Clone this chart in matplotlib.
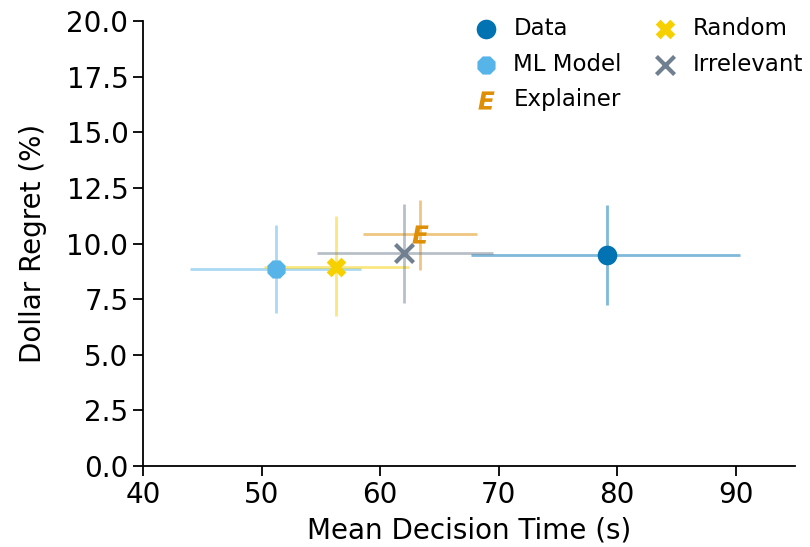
import matplotlib
matplotlib.use("Agg")
import matplotlib.pyplot as plt

# values
labels = ["Data", "ML Model", "Explainer", "Random", "Irrelevant"]
mean_time = [79.1, 51.2, 63.4, 56.3, 62.0]
time_lo = [67.7, 44.0, 58.6, 50.2, 54.7]
time_hi = [90.4, 58.4, 68.2, 62.4, 69.5]
regret = [9.47, 8.85, 10.42, 8.95, 9.57]
regret_lo = [7.25, 6.86, 8.83, 6.73, 7.32]
regret_hi = [11.72, 10.82, 11.96, 11.24, 11.80]

colors = ["#0173b2", "#56b4e9", "#de8f05", "#f7d000", "#708090"]
markers = ["o", "8", r"$\mathbfit{E}$", "X", "x"]
sizes = [200, 200, 170, 200, 170]

plt.rcParams["font.size"] = 20

fig = plt.figure(figsize=(8.1, 5.47), dpi=100)
ax = fig.add_axes([0.1765, 0.148, 0.805, 0.8135])

for i, name in enumerate(labels):
    xerr = [[mean_time[i] - time_lo[i]], [time_hi[i] - mean_time[i]]]
    yerr = [[regret[i] - regret_lo[i]], [regret_hi[i] - regret[i]]]
    ax.errorbar([mean_time[i]], [regret[i]], xerr=xerr, yerr=yerr, fmt="none",
                ecolor=colors[i], alpha=0.5, elinewidth=2, capsize=0, zorder=2)

handles = []
for i, name in enumerate(labels):
    kw = dict(color=colors[i], s=sizes[i], marker=markers[i], label=name, zorder=3)
    if markers[i] == "x":
        kw["linewidths"] = 3
    else:
        kw["linewidths"] = 0
    handles.append(ax.scatter([mean_time[i]], [regret[i]], **kw))

ax.set_xlim(40, 95)
ax.set_ylim(0, 20)
ax.set_xticks([40, 50, 60, 70, 80, 90])
ax.set_yticks([0, 2.5, 5, 7.5, 10, 12.5, 15, 17.5, 20])
ax.set_yticklabels(["0.0", "2.5", "5.0", "7.5", "10.0", "12.5", "15.0", "17.5", "20.0"])
ax.set_xlabel("Mean Decision Time (s)", labelpad=6)
ax.set_ylabel("Dollar Regret (%)", labelpad=14)
ax.spines["top"].set_visible(False)
ax.spines["right"].set_visible(False)
for s in ["left", "bottom"]:
    ax.spines[s].set_linewidth(1.3)
ax.tick_params(width=1.3, length=7)

ax.legend(handles=handles, ncol=2, frameon=False, loc="upper right",
          bbox_to_anchor=(1.044, 1.055), handletextpad=0.2, columnspacing=0.9,
          labelspacing=0.55, fontsize=16.5)

fig.savefig("out.png", dpi=100)
